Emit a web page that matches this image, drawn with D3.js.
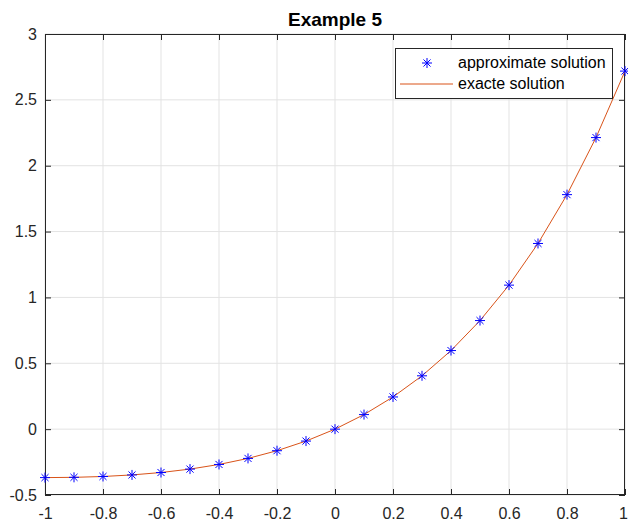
<!DOCTYPE html>
<html>
<head>
<meta charset="utf-8">
<script src="https://cdn.jsdelivr.net/npm/d3@7"></script>
<style>
  html, body { margin: 0; padding: 0; background: #fff; }
  svg { display: block; font-family: "Liberation Sans", Arial, sans-serif; }
</style>
</head>
<body>
<svg id="chart" width="628" height="525"></svg>
<script>
// Sample points of the solution on [-1, 1]
const xValues = [-1, -0.9, -0.8, -0.7, -0.6, -0.5, -0.4, -0.3, -0.2, -0.1, 0,
                 0.1, 0.2, 0.3, 0.4, 0.5, 0.6, 0.7, 0.8, 0.9, 1];
const approxValues = [-0.3679, -0.3659, -0.3595, -0.3476, -0.3293, -0.3033, -0.2681,
                      -0.2222, -0.1637, -0.0905, 0, 0.1105, 0.2443, 0.4050, 0.5967,
                      0.8244, 1.0933, 1.4096, 1.7804, 2.2136, 2.7183];
const exactValues = [-0.3679, -0.3659, -0.3595, -0.3476, -0.3293, -0.3033, -0.2681,
                     -0.2222, -0.1637, -0.0905, 0, 0.1105, 0.2443, 0.4050, 0.5967,
                     0.8244, 1.0933, 1.4096, 1.7804, 2.2136, 2.7183];
const xTicks = [-1, -0.8, -0.6, -0.4, -0.2, 0, 0.2, 0.4, 0.6, 0.8, 1];
const yTicks = [-0.5, 0, 0.5, 1, 1.5, 2, 2.5, 3];
const seriesNames = ["approximate solution", "exacte solution"];
const chartTitle = "Example 5";

const svg = d3.select("#chart");
const plotL = 45, plotR = 625, plotT = 34, plotB = 495;
const x = d3.scaleLinear().domain([-1, 1]).range([plotL, plotR]);
const y = d3.scaleLinear().domain([-0.5, 3]).range([plotB, plotT]);
const tickLen = 6;
const fmt = d => String(d);

// Grid
const grid = svg.append("g");
grid.selectAll(".gx").data(xTicks).enter().append("line")
  .attr("x1", d => x(d)).attr("x2", d => x(d))
  .attr("y1", plotT).attr("y2", plotB)
  .attr("stroke", "#e3e3e3").attr("stroke-width", 1);
grid.selectAll(".gy").data(yTicks).enter().append("line")
  .attr("x1", plotL).attr("x2", plotR)
  .attr("y1", d => y(d)).attr("y2", d => y(d))
  .attr("stroke", "#e3e3e3").attr("stroke-width", 1);

// Axes with inward ticks, mirrored on top and right
function styleAxis(g) {
  g.select(".domain").remove();
  g.selectAll(".tick line").attr("stroke", "#262626");
  g.selectAll(".tick text").attr("fill", "#262626").attr("font-size", 16)
    .attr("font-family", "Liberation Sans, Arial, sans-serif");
}
const xAxisG = svg.append("g").attr("transform", `translate(0,${plotB})`)
  .call(d3.axisBottom(x).tickValues(xTicks).tickFormat(fmt).tickSizeInner(-tickLen).tickSizeOuter(0).tickPadding(13))
  .call(styleAxis);
// keep the rightmost label inside the canvas
xAxisG.selectAll(".tick text").filter(d => d === 1).attr("dx", -2);
svg.append("g").attr("transform", `translate(0,${plotT})`)
  .call(d3.axisTop(x).tickValues(xTicks).tickFormat("").tickSizeInner(-tickLen).tickSizeOuter(0))
  .call(styleAxis);
svg.append("g").attr("transform", `translate(${plotL},0)`)
  .call(d3.axisLeft(y).tickValues(yTicks).tickFormat(fmt).tickSizeInner(-tickLen).tickSizeOuter(0).tickPadding(8))
  .call(styleAxis);
svg.append("g").attr("transform", `translate(${plotR},0)`)
  .call(d3.axisRight(y).tickValues(yTicks).tickFormat("").tickSizeInner(-tickLen).tickSizeOuter(0))
  .call(styleAxis);

// Box
svg.append("rect").attr("x", plotL + 0.5).attr("y", plotT + 0.5)
  .attr("width", plotR - plotL - 1).attr("height", plotB - plotT - 1)
  .attr("fill", "none").attr("stroke", "#262626").attr("stroke-width", 1);

// Exact solution line
const lineColor = "#D95319";
svg.append("path")
  .datum(xValues.map((v, i) => [v, exactValues[i]]))
  .attr("d", d3.line().x(d => x(d[0])).y(d => y(d[1])))
  .attr("fill", "none").attr("stroke", lineColor).attr("stroke-width", 1);

// Asterisk marker
function asterisk(g, cx, cy, r) {
  const a = r * Math.SQRT1_2;
  const segs = [[-r, 0, r, 0], [0, -r, 0, r], [-a, -a, a, a], [-a, a, a, -a]];
  segs.forEach(s => g.append("line")
    .attr("x1", cx + s[0]).attr("y1", cy + s[1])
    .attr("x2", cx + s[2]).attr("y2", cy + s[3])
    .attr("stroke", "#0000ff").attr("stroke-width", 1));
}
const markers = svg.append("g");
xValues.forEach((v, i) => asterisk(markers, x(v), y(approxValues[i]), 5));

// Title
svg.append("text").attr("x", (plotL + plotR) / 2).attr("y", 26)
  .attr("text-anchor", "middle").attr("font-size", 19).attr("font-weight", "bold")
  .attr("fill", "#000").text(chartTitle);

// Legend
const lg = svg.append("g");
lg.append("rect").attr("x", 395.5).attr("y", 48.5).attr("width", 217).attr("height", 50)
  .attr("fill", "#fff").attr("stroke", "#262626").attr("stroke-width", 1);
asterisk(lg, 427, 63, 5);
lg.append("line").attr("x1", 400).attr("x2", 453).attr("y1", 84).attr("y2", 84)
  .attr("stroke", lineColor).attr("stroke-width", 1);
lg.selectAll("text.lt").data(seriesNames).enter().append("text")
  .attr("x", 458).attr("y", (d, i) => 68 + i * 21)
  .attr("font-size", 16).attr("fill", "#000").text(d => d);
</script>
</body>
</html>
